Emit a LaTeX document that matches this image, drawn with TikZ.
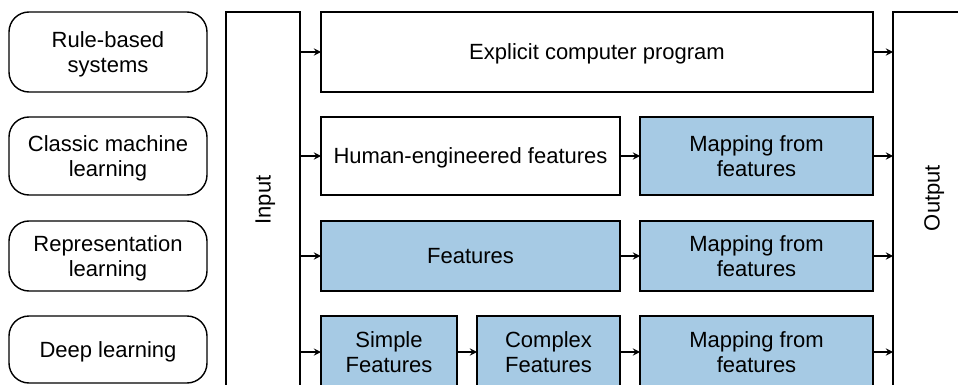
\documentclass[tikz,border=0pt]{standalone}
\usepackage{fontspec}
\setmainfont{Liberation Sans}
\usepackage{tikz}
\usetikzlibrary{arrows, positioning}
\definecolor{featblue}{RGB}{166,202,228}
\tikzset{%
	sys/.style={draw, rectangle, rounded corners=10pt, minimum width=99pt,%
		align=center, text depth=0pt, outer sep=0pt, line width=0.7pt},
	blk/.style={draw, rectangle, align=center, text depth=0pt, outer sep=0pt,%
		line width=0.7pt, fill=white},
	learn/.style={blk, fill=featblue},
	tall/.style={draw, rectangle, minimum width=37pt, minimum height=194pt,%
		outer sep=0pt, line width=0.7pt},
	lbl/.style={rotate=90, text depth=0pt},
	sel/.style={->, line width=0.6pt}
}

\begin{document}
\begin{tikzpicture}[x=0.5pt, y=-0.5pt, font=\fontsize{11}{12.5}\selectfont, >=stealth]
	\clip (0,0) rectangle (958,385);

	% approaches
	\node[sys, minimum height=40pt] (rb) at (108,52) {Rule-based\\systems};
	\node[sys, minimum height=39pt] (cml) at (108,156) {Classic machine\\learning};
	\node[sys, minimum height=35pt] (rep) at (108,256) {Representation\\learning};
	\node[sys, minimum height=33.5pt] (dl) at (108,349.5) {Deep learning};

	% input and output
	\node[tall] (inp) at (263,206) {};
	\node[lbl] (inlab) at (263,200) {Input};
	\node[tall, minimum width=39pt] (outp) at (932,206) {};
	\node[lbl] (outlab) at (932,198) {Output};

	% pipelines
	\node[blk, minimum width=276pt, minimum height=40pt] (prog) at (597,52) {Explicit computer program};

	\node[blk, minimum width=149.5pt, minimum height=39pt] (hum) at (470.5,156) {Human-engineered features};
	\node[learn, minimum width=116.5pt, minimum height=39pt, right=10pt of hum] (map2) {Mapping from\\features};

	\node[learn, minimum width=149.5pt, minimum height=35pt] (feat) at (470.5,256) {Features};
	\node[learn, minimum width=116.5pt, minimum height=35pt, right=10pt of feat] (map3) {Mapping from\\features};

	\node[learn, minimum width=68pt, minimum height=36pt] (simp) at (389,352) {Simple\\Features};
	\node[learn, minimum width=71.5pt, minimum height=36pt, right=10pt of simp] (comp) {Complex\\Features};
	\node[learn, minimum width=116.5pt, minimum height=36pt, right=10pt of comp] (map4) {Mapping from\\features};

	\foreach \a in {prog, hum, feat, simp}
		\draw[sel] (inp.east |- \a.west) -- (\a.west);
	\foreach \a/\b in {hum/map2, feat/map3, simp/comp, comp/map4}
		\draw[sel] (\a) -- (\b);
	\foreach \a in {prog, map2, map3, map4}
		\draw[sel] (\a.east) -- (outp.west |- \a.east);
\end{tikzpicture}
\end{document}
